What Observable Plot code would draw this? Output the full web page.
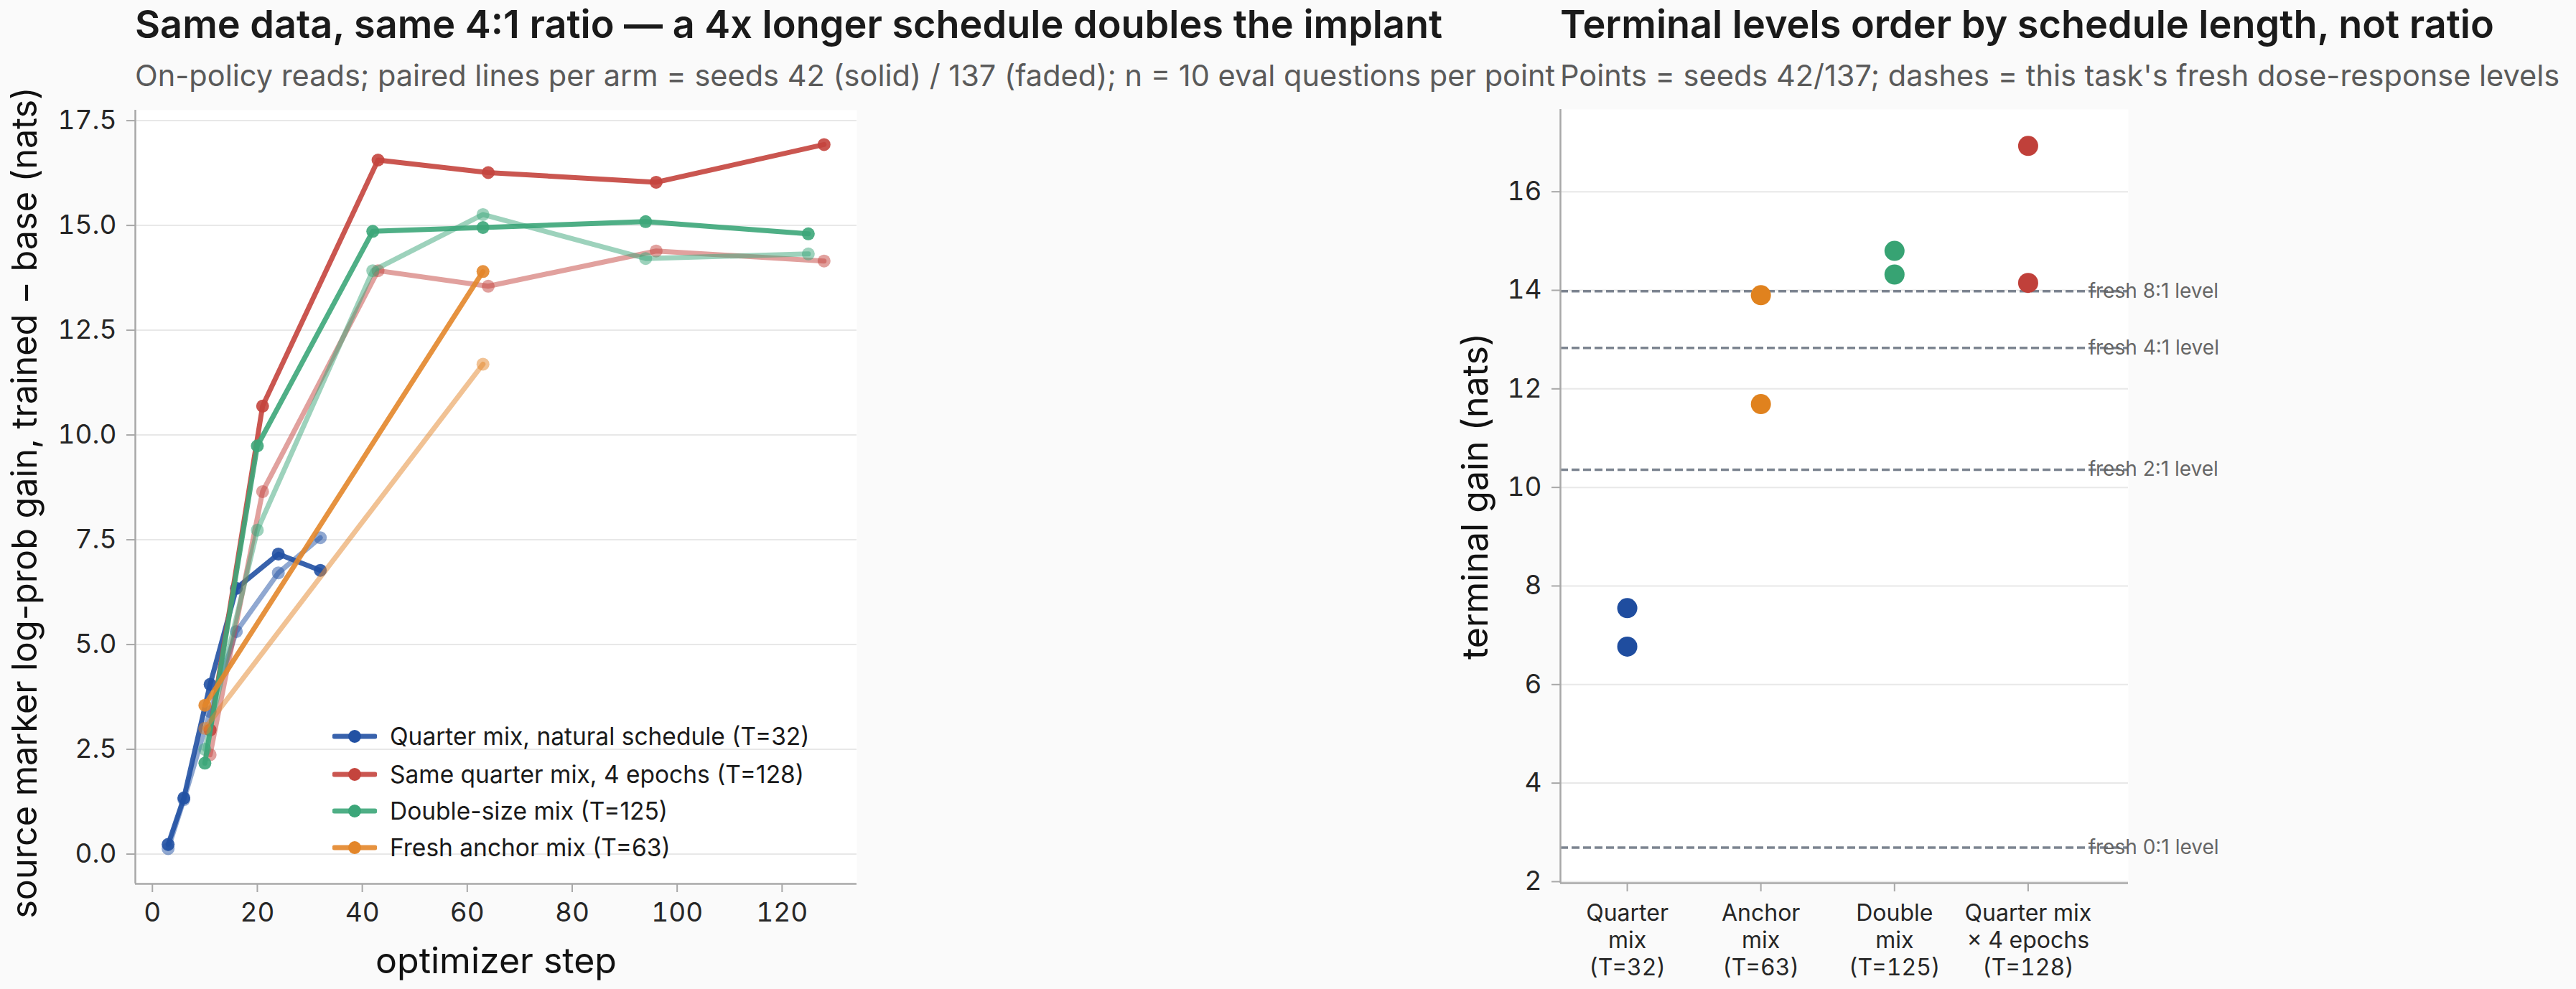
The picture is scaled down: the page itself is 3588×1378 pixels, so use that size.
<!DOCTYPE html>
<html><head><meta charset="utf-8">
<script src="https://cdn.jsdelivr.net/npm/d3@7"></script>
<script src="https://cdn.jsdelivr.net/npm/@observablehq/plot@0.6"></script>
<style>
html,body{margin:0;padding:0;background:#fafafa;}
body{width:3588px;height:1378px;position:relative;overflow:hidden;font-family:Inter,"Noto Sans",sans-serif;}
.abs{position:absolute;white-space:nowrap;line-height:1;}
.title{font-size:54px;font-weight:600;color:#1a1a1a;}
.sub{font-size:41.5px;color:#5a5a5a;}
#legend{position:absolute;left:463px;top:1000px;}
.lrow{position:absolute;left:0;height:52px;display:flex;align-items:center;white-space:nowrap;font-size:33.5px;color:#1a1a1a;}
.lrow svg{margin-right:18px;}
</style></head><body>
<div class="abs title" style="left:188px;top:7px">Same data, same 4:1 ratio — a 4x longer schedule doubles the implant</div>
<div class="abs sub" style="left:188px;top:85px">On-policy reads; paired lines per arm = seeds 42 (solid) / 137 (faded); n = 10 eval questions per point</div>
<div class="abs title" style="left:2173px;top:7px">Terminal levels order by schedule length, not ratio</div>
<div class="abs sub" style="left:2173px;top:85px">Points = seeds 42/137; dashes = this task's fresh dose-response levels</div>
<div id="left" style="position:absolute;left:0;top:0"></div>
<div id="right" style="position:absolute;left:1900px;top:0"></div>
<div id="legend"></div>
<script>
// ---------- data ----------
const armNames = ["Quarter mix, natural schedule (T=32)", "Same quarter mix, 4 epochs (T=128)", "Double-size mix (T=125)", "Fresh anchor mix (T=63)"];
const armColors = ["#2251a3", "#c4443d", "#3ca679", "#e3862a"];

const quarterSteps = [3, 6, 11, 16, 24, 32];
const quarterSeed42 = [0.23, 1.34, 4.05, 6.34, 7.16, 6.77];
const quarterSeed137 = [0.13, 1.3, 3.4, 5.31, 6.71, 7.55];

const epochsSteps = [11, 21, 43, 64, 96, 128];
const epochsSeed42 = [2.96, 10.69, 16.56, 16.26, 16.03, 16.93];
const epochsSeed137 = [2.37, 8.65, 13.92, 13.55, 14.39, 14.15];

const doubleSteps = [10, 20, 42, 63, 94, 125];
const doubleSeed42 = [2.17, 9.74, 14.86, 14.95, 15.09, 14.8];
const doubleSeed137 = [2.5, 7.73, 13.92, 15.26, 14.21, 14.32];

const anchorSteps = [10, 63];
const anchorSeed42 = [3.55, 13.9];
const anchorSeed137 = [3.0, 11.69];

const leftYTicks = [0, 2.5, 5, 7.5, 10, 12.5, 15, 17.5];
const leftXTicks = [0, 20, 40, 60, 80, 100, 120];

const catLabels = ["Quarter\nmix\n(T=32)", "Anchor\nmix\n(T=63)", "Double\nmix\n(T=125)", "Quarter mix\n× 4 epochs\n(T=128)"];
const catArm = [0, 3, 2, 1]; // arm index for each category
const rightYTicks = [2, 4, 6, 8, 10, 12, 14, 16];

const freshLabels = ["fresh 8:1 level", "fresh 4:1 level", "fresh 2:1 level", "fresh 0:1 level"];
const freshLevels = [13.98, 12.83, 10.36, 2.69];

// ---------- build tables ----------
const armSteps = [quarterSteps, epochsSteps, doubleSteps, anchorSteps];
const armS42 = [quarterSeed42, epochsSeed42, doubleSeed42, anchorSeed42];
const armS137 = [quarterSeed137, epochsSeed137, doubleSeed137, anchorSeed137];

function series(i, vals, seed) {
  return armSteps[i].map((s, j) => ({arm: armNames[i], seed, step: s, gain: vals[j]}));
}

const leftXDomain = [-3.25, 134.25];
const leftYDomain = [-0.71, 17.75];
const axisColor = "#a8a8a8";
const tickTextColor = "#262626";
const FONT = "Inter, 'Noto Sans', sans-serif";

const lineMarks = [];
for (let i = 0; i < armNames.length; i++) {
  const a = series(i, armS42[i], 42);
  const b = series(i, armS137[i], 137);
  lineMarks.push(
    Plot.line(a, {x: "step", y: "gain", stroke: "arm", strokeWidth: 7, strokeOpacity: 0.9, strokeLinejoin: "round"}),
    Plot.dot(a, {x: "step", y: "gain", fill: "arm", r: 9, fillOpacity: 0.9}),
    Plot.line(b, {x: "step", y: "gain", stroke: "arm", strokeWidth: 7, strokeOpacity: 0.5, strokeLinejoin: "round"}),
    Plot.dot(b, {x: "step", y: "gain", fill: "arm", r: 9, fillOpacity: 0.5})
  );
}

const left = Plot.plot({
  width: 1300, height: 1378,
  marginLeft: 188, marginRight: 107, marginTop: 153, marginBottom: 147,
  style: {background: "transparent", fontFamily: FONT, overflow: "visible"},
  x: {domain: leftXDomain},
  y: {domain: leftYDomain},
  color: {domain: armNames, range: armColors},
  marks: [
    Plot.frame({fill: "white", stroke: null}),
    Plot.gridY(leftYTicks, {stroke: "#e8e8e8", strokeOpacity: 1, strokeWidth: 2}),
    Plot.axisY(leftYTicks, {tickSize: 12, tickPadding: 14, fontSize: 37, stroke: axisColor, fill: tickTextColor, strokeWidth: 2, tickFormat: d => d.toFixed(1), label: null}),
    Plot.axisX(leftXTicks, {tickSize: 12, tickPadding: 14, fontSize: 37, stroke: axisColor, fill: tickTextColor, strokeWidth: 2, tickFormat: d => String(d), label: null}),
    Plot.ruleX([leftXDomain[0]], {stroke: axisColor, strokeWidth: 2.5}),
    Plot.ruleY([leftYDomain[0]], {stroke: axisColor, strokeWidth: 2.5}),
    ...lineMarks,
    Plot.text(["optimizer step"], {frameAnchor: "bottom", dy: 124, fontSize: 50, fill: "#111", textAnchor: "middle", lineAnchor: "bottom"}),
    Plot.text(["source marker log-prob gain, trained − base (nats)"], {frameAnchor: "left", dx: -153, dy: 8, rotate: -90, fontSize: 48.5, fill: "#111", textAnchor: "middle", lineAnchor: "middle"})
  ]
});
document.getElementById("left").appendChild(left);

// ---------- right panel ----------
const rightXDomain = [-0.5, 3.75];
const rightYDomain = [1.97, 17.67];
const terminal = [];
catArm.forEach((ai, ci) => {
  terminal.push({cat: ci, arm: armNames[ai], gain: armS42[ai][armS42[ai].length - 1]});
  terminal.push({cat: ci, arm: armNames[ai], gain: armS137[ai][armS137[ai].length - 1]});
});
const fresh = freshLevels.map((v, i) => ({level: v, label: freshLabels[i]}));
const labelX = 3.45;

const right = Plot.plot({
  width: 1688, height: 1378,
  marginLeft: 273, marginRight: 624, marginTop: 152, marginBottom: 148,
  style: {background: "transparent", fontFamily: FONT, overflow: "visible"},
  x: {domain: rightXDomain},
  y: {domain: rightYDomain},
  color: {domain: armNames, range: ["#1f4d9f", "#c0403a", "#37a373", "#e0821e"]},
  marks: [
    Plot.frame({fill: "white", stroke: null}),
    Plot.gridY(rightYTicks, {stroke: "#e8e8e8", strokeOpacity: 1, strokeWidth: 2}),
    Plot.ruleY(fresh, {y: "level", stroke: "#7c8490", strokeWidth: 3.5, strokeDasharray: "11,5"}),
    Plot.text(fresh, {x: () => labelX, y: "level", text: "label", textAnchor: "start", lineAnchor: "middle", fontSize: 28, fill: "#666"}),
    Plot.axisY(rightYTicks, {tickSize: 12, tickPadding: 14, fontSize: 37, stroke: axisColor, fill: tickTextColor, strokeWidth: 2, tickFormat: d => String(d), label: null}),
    Plot.axisX([0, 1, 2, 3], {tickSize: 12, tickPadding: 14, fontSize: 32, lineHeight: 1.18, stroke: axisColor, fill: tickTextColor, strokeWidth: 2, tickFormat: i => catLabels[i], label: null}),
    Plot.ruleX([rightXDomain[0]], {stroke: axisColor, strokeWidth: 2.5}),
    Plot.ruleY([rightYDomain[0]], {stroke: axisColor, strokeWidth: 2.5}),
    Plot.dot(terminal, {x: "cat", y: "gain", fill: "arm", r: 14}),
    Plot.text(["terminal gain (nats)"], {frameAnchor: "left", dx: -118, rotate: -90, fontSize: 50, fill: "#111", textAnchor: "middle", lineAnchor: "middle"})
  ]
});
document.getElementById("right").appendChild(right);

// ---------- legend ----------
const legendRowY = [1025.8, 1078.6, 1130.3, 1181.2];
const leg = d3.select("#legend");
armNames.forEach((name, i) => {
  const row = leg.append("div").attr("class", "lrow").style("top", (legendRowY[i] - 1000 - 26) + "px");
  const svg = row.append("svg").attr("width", 62).attr("height", 22);
  svg.append("line").attr("x1", 3).attr("x2", 59).attr("y1", 11).attr("y2", 11)
    .attr("stroke", armColors[i]).attr("stroke-width", 7).attr("stroke-linecap", "round").attr("stroke-opacity", 0.9);
  svg.append("circle").attr("cx", 31).attr("cy", 11).attr("r", 9).attr("fill", armColors[i]);
  row.append("span").text(name);
});
</script>
</body></html>
